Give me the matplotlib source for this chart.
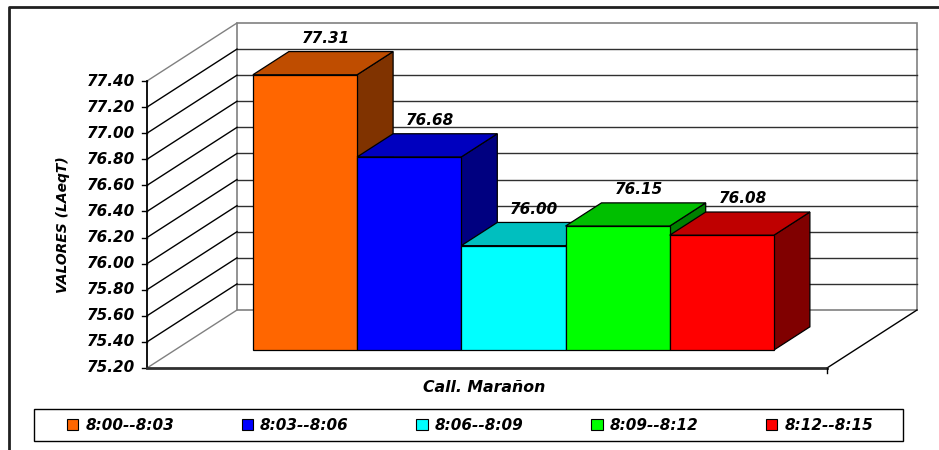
import numpy as np
import matplotlib.pyplot as plt
from matplotlib.patches import Polygon, Patch, Rectangle

# datos de la medicion
periodos = ['8:00--8:03', '8:03--8:06', '8:06--8:09', '8:09--8:12', '8:12--8:15']
valores = [77.31, 76.68, 76.00, 76.15, 76.08]
colores = ['#FF6600', '#0000FF', '#00FFFF', '#00FF00', '#FF0000']
ticks = [75.20, 75.40, 75.60, 75.80, 76.00, 76.20, 76.40, 76.60, 76.80, 77.00, 77.20, 77.40]
ymin, ymax = 75.20, 77.40

plt.rcParams['font.family'] = 'DejaVu Sans'
plt.rcParams['font.weight'] = 'bold'
plt.rcParams['font.style'] = 'italic'

fig = plt.figure(figsize=(9.39, 4.5), dpi=100)
ax = fig.add_axes([0, 0, 1, 1])
ax.set_xlim(0, 939)
ax.set_ylim(450, 0)
ax.axis('off')

# proyeccion oblicua tipo excel 3D (pixeles)
x0, y0 = 147, 368          # origen frontal (valor minimo)
ancho = 680                # ancho del piso
alto = 287                 # alto del eje
dx, dy = 90, -58           # vector de profundidad
esc = alto / (ymax - ymin)

def proy(x, v, d):
    return (x0 + x + d * dx, y0 - (v - ymin) * esc + d * dy)

def shade(c, f):
    c = np.array(plt.matplotlib.colors.to_rgb(c))
    return tuple(c * f)

# pared de fondo
fondo = [proy(0, ymin, 1), proy(ancho, ymin, 1), proy(ancho, ymax, 1), proy(0, ymax, 1)]
ax.add_patch(Polygon(fondo, closed=True, fc='white', ec='#808080', lw=1.2, zorder=1))
for t in ticks[1:-1]:
    a, b = proy(0, t, 1), proy(ancho, t, 1)
    ax.plot([a[0], b[0]], [a[1], b[1]], color='#303030', lw=1.0, zorder=2)

# pared izquierda
for t in ticks:
    a, b = proy(0, t, 0), proy(0, t, 1)
    col = '#808080' if t in (ymin, ymax) else 'black'
    ax.plot([a[0], b[0]], [a[1], b[1]], color=col, lw=1.0, zorder=2)

# piso
a, b = proy(ancho, ymin, 0), proy(ancho, ymin, 1)
ax.plot([a[0], b[0]], [a[1], b[1]], color='black', lw=1.0, zorder=2)

# eje vertical frontal
a, b = proy(0, ymin, 0), proy(0, ymax, 0)
ax.plot([a[0], b[0]], [a[1], b[1]], color='black', lw=1.3, zorder=3)
for t in ticks:
    p = proy(0, t, 0)
    ax.plot([p[0] - 5, p[0]], [p[1], p[1]], color='black', lw=1.0, zorder=3)
    ax.text(p[0] - 12, p[1], f'{t:.2f}', ha='right', va='center', fontsize=11)

# eje horizontal
a, b = proy(0, ymin, 0), proy(ancho, ymin, 0)
ax.plot([a[0], b[0]], [a[1], b[1]], color='#303030', lw=2.0, zorder=3)
ax.plot([b[0], b[0]], [b[1], b[1] + 5], color='black', lw=1.0, zorder=3)

# barras
d1, d2 = 0.31, 0.71
bw = 104.2
xb = 78
for i, (v, c) in enumerate(zip(valores, colores)):
    xl, xr = xb + i * bw, xb + (i + 1) * bw
    frente = [proy(xl, ymin, d1), proy(xr, ymin, d1), proy(xr, v, d1), proy(xl, v, d1)]
    techo = [proy(xl, v, d1), proy(xr, v, d1), proy(xr, v, d2), proy(xl, v, d2)]
    lado = [proy(xr, ymin, d1), proy(xr, ymin, d2), proy(xr, v, d2), proy(xr, v, d1)]
    z = 5 + i
    ax.add_patch(Polygon(lado, closed=True, fc=shade(c, 0.5), ec='black', lw=0.9, zorder=z))
    ax.add_patch(Polygon(techo, closed=True, fc=shade(c, 0.75), ec='black', lw=0.9, zorder=z))
    ax.add_patch(Polygon(frente, closed=True, fc=c, ec='black', lw=0.9, zorder=z))
    px, py = proy((xl + xr) / 2, v, (d1 + d2) / 2)
    ax.text(px + 3, py - 25, f'{v:.2f}', ha='center', va='center', fontsize=11, zorder=20)

# titulos de ejes
ax.text(63, 225, 'VALORES (LAeqT)', rotation=90, ha='center', va='center', fontsize=10)
ax.text(484, 388, 'Call. Marañon', ha='center', va='center', fontsize=11.3)

# marco del grafico
ax.plot([9, 9, 939], [450, 7, 7], color='#202020', lw=2.0, zorder=30, clip_on=False)

# leyenda
ax.add_patch(Rectangle((34, 409), 869, 32, fc='white', ec='black', lw=1.0, zorder=25))
handles = [Patch(fc=c, ec='black', lw=0.8) for c in colores]
leg = fig.legend(handles, periodos, loc='center left', ncol=5, mode='expand',
                 bbox_to_anchor=(67 / 939, (450 - 425) / 450, 806 / 939, 0),
                 frameon=False, fontsize=11,
                 handlelength=0.75, handleheight=0.75, handletextpad=0.45,
                 borderpad=0, borderaxespad=0)

fig.savefig('out.png', dpi=100)
